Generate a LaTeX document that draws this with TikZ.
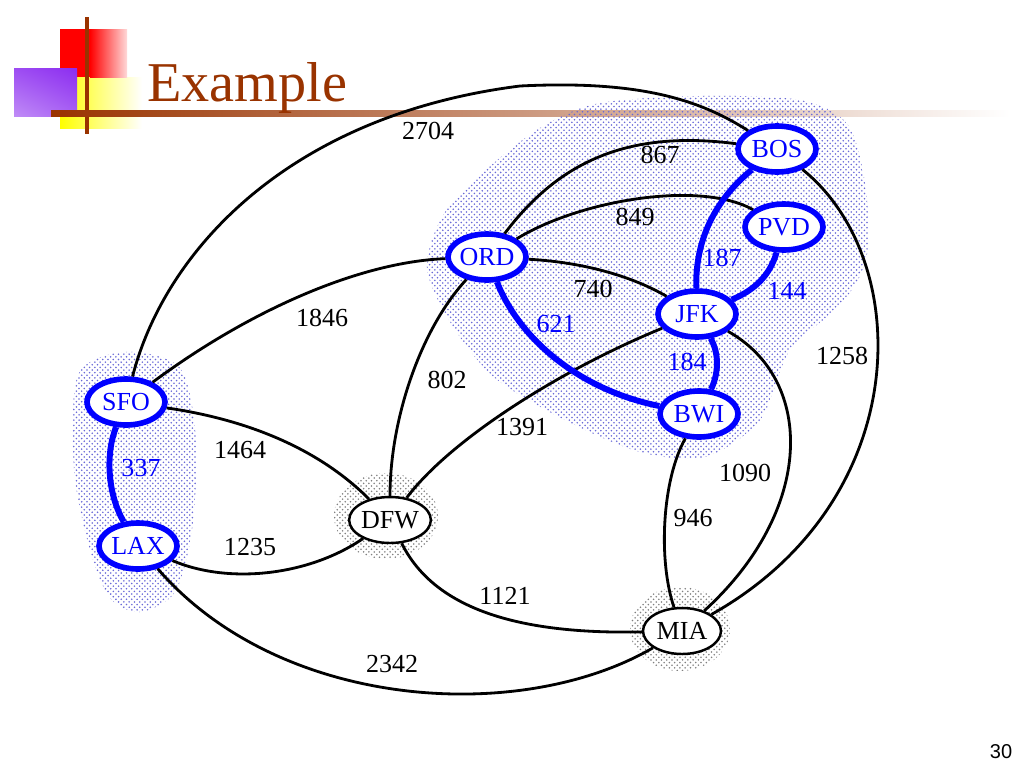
\documentclass[tikz,border=0pt]{standalone}
\usepackage{fontspec}
\setmainfont{Liberation Serif}
\newfontfamily\pagefont{Liberation Sans}
\usetikzlibrary{shapes.geometric, patterns, shadings}
\definecolor{titlebrown}{RGB}{153, 51, 0}
\definecolor{mstblue}{RGB}{0, 0, 255}
\definecolor{regionblue}{RGB}{105, 105, 215}
\definecolor{violetsq}{RGB}{140, 45, 240}

\begin{document}
\begin{tikzpicture}[
        x=0.02cm, y=-0.02cm,
        port/.style={ellipse, fill=white, inner sep=0pt, minimum width=1.56cm, minimum height=0.92cm, font=\fontsize{14.8}{16}\selectfont},
        blueport/.style={port, draw=mstblue, line width=3.2pt, text=mstblue},
        grayport/.style={port, draw=black, line width=1.4pt},
        link/.style={line width=1.6pt},
        mst/.style={line width=3.4pt, mstblue},
        wt/.style={font=\fontsize{14.8}{16}\selectfont, inner sep=0pt},
        mstwt/.style={wt, text=mstblue},
        cloud/.style={pattern=crosshatch dots, pattern color=regionblue},
        halo/.style={pattern=crosshatch dots, pattern color=gray}
    ]
        \useasboundingbox (0,0) rectangle (1024,768);

        % title decoration
        \shade[left color=yellow, right color=white] (60,77) rectangle (142,128);
        \fill[red] (60,29) rectangle (90,77);
        \shade[left color=red, right color=red!15] (90,29) rectangle (127,77);
        \shade[upper left=violetsq!85, upper right=violetsq, lower left=violetsq!55, lower right=violetsq!75] (14,68) rectangle (77,116);
        \fill[titlebrown] (85,17) rectangle (89,134);
        \shade[left color=titlebrown, right color=white] (51,110) rectangle (1010,116);
        \node[anchor=base west, inner sep=0pt, text=titlebrown, font=\fontsize{32}{36}\selectfont] (title) at (147,101) {Example};

        % clusters
        \fill[cloud] plot[smooth cycle] coordinates {(600,103) (700,96) (800,100) (848,125) (866,190) (866,260) (840,305) (790,350) (760,420) (705,457) (640,452) (565,420) (495,378) (452,325) (427,268) (445,212) (495,162) (545,125)};
        \fill[cloud] plot[smooth cycle] coordinates {(78,375) (125,352) (180,368) (196,440) (192,530) (175,592) (140,612) (110,598) (90,550) (74,470)};
        \fill[halo] (386,516) ellipse [x radius=52, y radius=43];
        \fill[halo] (680,629) ellipse [x radius=50, y radius=42];

        % airports
        \node[blueport] (bos) at (777,149) {BOS};
        \node[blueport] (pvd) at (784,227) {PVD};
        \node[blueport] (ord) at (487,257) {ORD};
        \node[blueport] (jfk) at (697,314) {JFK};
        \node[blueport] (bwi) at (699,414) {BWI};
        \node[blueport] (sfo) at (126,402) {SFO};
        \node[blueport] (lax) at (138,546) {LAX};
        \node[grayport] (dfw) at (390,520) {DFW};
        \node[grayport] (mia) at (682,631) {MIA};

        % flights
        \draw[link] (sfo) .. controls (165,250) and (290,115) .. (520,86) .. controls (640,80) and (700,100) .. (bos);
        \draw[link] (ord) .. controls (560,160) and (630,130) .. (bos);
        \draw[link] (ord) .. controls (580,200) and (700,180) .. (pvd);
        \draw[link] (ord) .. controls (580,262) and (630,275) .. (jfk);
        \draw[link] (sfo) .. controls (250,310) and (360,262) .. (ord);
        \draw[link] (ord) .. controls (420,330) and (390,420) .. (dfw);
        \draw[link] (jfk) .. controls (560,370) and (450,440) .. (dfw);
        \draw[link] (bos) .. controls (915,260) and (915,500) .. (mia);
        \draw[link] (jfk) .. controls (815,380) and (815,510) .. (mia);
        \draw[link] (bwi) .. controls (662,480) and (658,560) .. (mia);
        \draw[link] (sfo) .. controls (250,420) and (320,450) .. (dfw);
        \draw[link] (lax) .. controls (230,585) and (310,575) .. (dfw);
        \draw[link] (dfw) .. controls (430,600) and (500,635) .. (mia);
        \draw[link] (lax) .. controls (280,710) and (520,725) .. (mia);
        \draw[mst] (ord) .. controls (520,340) and (580,390) .. (bwi);
        \draw[mst] (bos) .. controls (715,200) and (695,240) .. (jfk);
        \draw[mst] (pvd) .. controls (770,275) and (755,290) .. (jfk);
        \draw[mst] (jfk) .. controls (720,355) and (718,375) .. (bwi);
        \draw[mst] (sfo) .. controls (105,455) and (108,495) .. (lax);

        % distances
        \node[wt] (w2704) at (428,131) {2704};
        \node[wt] (w867) at (660,155) {867};
        \node[wt] (w849) at (635,217) {849};
        \node[wt] (w740) at (593,289) {740};
        \node[wt] (w1258) at (842,356) {1258};
        \node[wt] (w1846) at (322,318) {1846};
        \node[wt] (w802) at (447,380) {802};
        \node[wt] (w1391) at (522,427) {1391};
        \node[wt] (w1464) at (240,450) {1464};
        \node[wt] (w1090) at (745,473) {1090};
        \node[wt] (w946) at (693,518) {946};
        \node[wt] (w1235) at (250,547) {1235};
        \node[wt] (w1121) at (505,596) {1121};
        \node[wt] (w2342) at (392,664) {2342};
        \node[mstwt] (w621) at (556,324) {621};
        \node[mstwt] (w187) at (722,258) {187};
        \node[mstwt] (w144) at (787,291) {144};
        \node[mstwt] (w184) at (687,362) {184};
        \node[mstwt] (w337) at (141,468) {337};

        \node[inner sep=0pt, font=\pagefont\fontsize{11.4}{13}\selectfont] (pagenum) at (1001,752) {30};
    \end{tikzpicture}
\end{document}
